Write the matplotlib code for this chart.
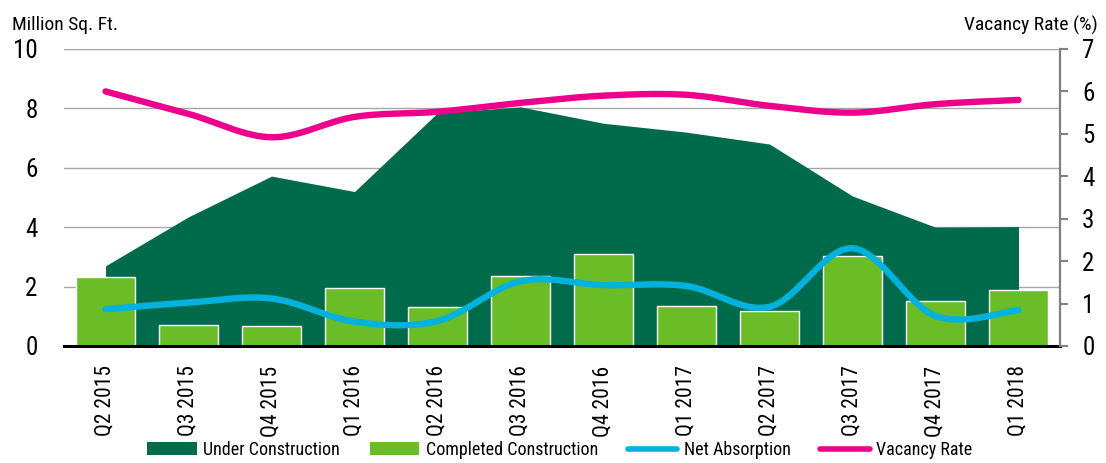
import numpy as np
from matplotlib import pyplot as plt
from matplotlib import font_manager
from matplotlib.patches import Patch
from matplotlib.lines import Line2D

quarters = ["Q2 2015", "Q3 2015", "Q4 2015", "Q1 2016", "Q2 2016", "Q3 2016",
            "Q4 2016", "Q1 2017", "Q2 2017", "Q3 2017", "Q4 2017", "Q1 2018"]
under_construction = [2.70, 4.35, 5.72, 5.20, 7.85, 8.05, 7.50, 7.20, 6.80, 5.05, 4.00, 4.02]
completed = [2.32, 0.72, 0.68, 1.96, 1.32, 2.37, 3.10, 1.33, 1.18, 3.04, 1.52, 1.89]
net_absorption = [1.24, 1.46, 1.60, 0.82, 0.84, 2.18, 2.05, 2.02, 1.32, 3.29, 1.01, 1.21]
vacancy_rate = [6.00, 5.47, 4.92, 5.40, 5.52, 5.73, 5.90, 5.92, 5.66, 5.50, 5.70, 5.80]

DARK = "#006B4B"
LIGHT = "#6BBD28"
CYAN = "#00B2DD"
PINK = "#EC008C"

# pick a narrow face if one is installed, the original uses a condensed font
names = {f.name for f in font_manager.fontManager.ttflist}
family = "DejaVu Sans"
for cand in ["Liberation Sans Narrow", "DejaVu Sans Condensed", "Roboto Condensed",
             "Open Sans Condensed", "Liberation Sans"]:
    if cand in names:
        family = cand
        break
plt.rcParams["font.family"] = [family, "DejaVu Sans"]
FS = 14


def smooth(xs, ys, n=24):
    # catmull-rom, like the smoothed lines of office charts
    p = np.column_stack([xs, ys]).astype(float)
    p = np.vstack([p[0], p, p[-1]])
    t = np.linspace(0, 1, n, endpoint=False)[:, None]
    segs = []
    for i in range(1, len(p) - 2):
        p0, p1, p2, p3 = p[i - 1], p[i], p[i + 1], p[i + 2]
        segs.append(0.5 * (2 * p1 + (-p0 + p2) * t
                           + (2 * p0 - 5 * p1 + 4 * p2 - p3) * t ** 2
                           + (-p0 + 3 * p1 - 3 * p2 + p3) * t ** 3))
    segs.append(p[-2][None])
    s = np.vstack(segs)
    return s[:, 0], s[:, 1]


x = np.arange(len(quarters))

fig = plt.figure(figsize=(11.06, 4.63), dpi=100)
ax = fig.add_axes([0.0579, 0.2527, 0.9005, 0.6415])
ax2 = ax.twinx()

ax.fill_between(x, 0, under_construction, color=DARK, lw=0, zorder=2)
ax.bar(x, completed, width=0.71, color=LIGHT, edgecolor="white", linewidth=1.0, zorder=3)
sx, sy = smooth(x, net_absorption)
ax.plot(sx, sy, color=CYAN, lw=4.6, solid_capstyle="round", zorder=4)
vx, vy = smooth(x, vacancy_rate)
ax2.plot(vx, vy, color=PINK, lw=4.6, solid_capstyle="round")

ax.set_xlim(-0.5, 11.5)
ax.set_ylim(0, 10)
ax2.set_ylim(0, 7)

ax.set_yticks([0, 2, 4, 6, 8, 10])
ax.grid(axis="y", color="#A6A6A6", lw=1.0, zorder=0)
ax.set_axisbelow(True)
ax.tick_params(axis="y", length=0, pad=19, labelsize=FS + 4)
ax.set_xticks(x)
ax.set_xticklabels(quarters, rotation=90)
ax.tick_params(axis="x", length=0, pad=14, labelsize=FS + 1.5)

for side in ["left", "top", "right"]:
    ax.spines[side].set_visible(False)
    ax2.spines[side].set_visible(side == "right")
ax2.spines["bottom"].set_visible(False)
ax.spines["bottom"].set_color("black")
ax.spines["bottom"].set_linewidth(2.2)
ax.spines["bottom"].set_zorder(5)
ax2.spines["right"].set_color("#808080")
ax2.spines["right"].set_linewidth(1.6)
ax2.set_yticks(range(8))
ax2.tick_params(axis="y", length=6, width=1.5, color="#808080", pad=10, labelsize=FS + 4)

fig.text(12 / 1106, 1 - 25 / 463, "Million Sq. Ft.", fontsize=FS, va="center", ha="left")
fig.text(1098 / 1106, 1 - 25 / 463, "Vacancy Rate (%)", fontsize=FS, va="center", ha="right")

handles = [
    Patch(facecolor=DARK, label="Under Construction"),
    Patch(facecolor=LIGHT, label="Completed Construction"),
    Line2D([], [], color=CYAN, lw=4, solid_capstyle="round", label="Net Absorption"),
    Line2D([], [], color=PINK, lw=4, solid_capstyle="round", label="Vacancy Rate"),
]
fig.legend(handles=handles, loc="center", bbox_to_anchor=(560 / 1106, 1 - 450 / 463),
           ncol=4, frameon=False, fontsize=13, handlelength=2.75, handletextpad=0.35,
           columnspacing=1.65, borderpad=0)

fig.savefig("out.png", dpi=100)
